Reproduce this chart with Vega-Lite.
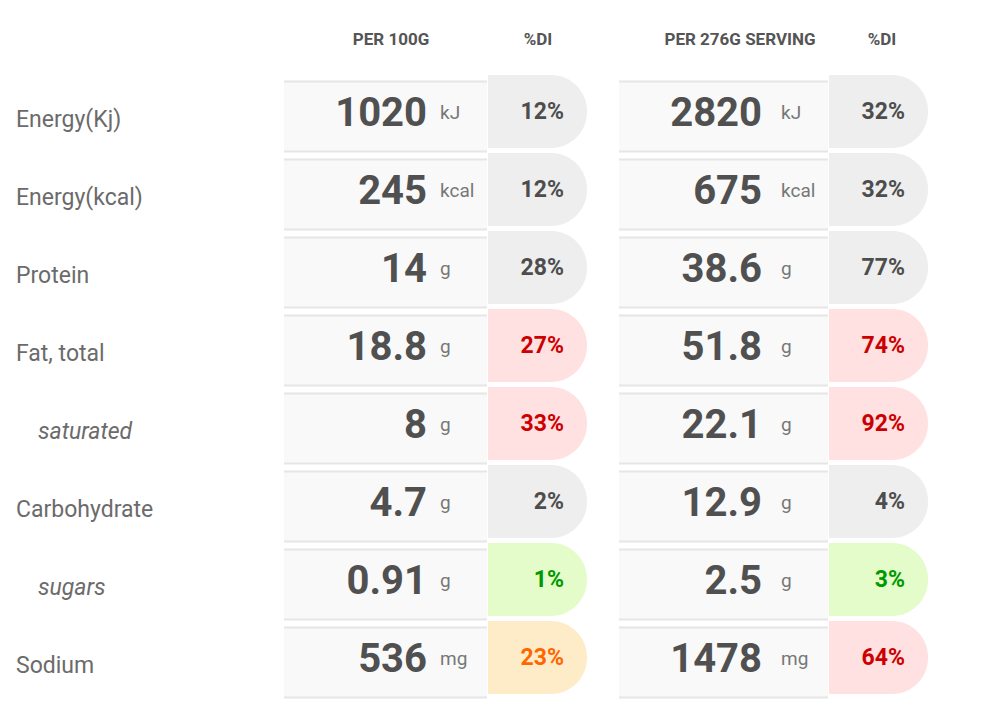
{
  "$schema": "https://vega.github.io/schema/vega-lite/v6.json",
  "padding": 0,
  "background": "white",
  "config": {"view": {"stroke": null}, "font": "Roboto"},
  "datasets": {
    "facts": [
      {"key": "energy_kj", "label": "Energy(Kj)", "sub": false, "basis": "per100", "amount": 1020, "unit": "kJ", "di": 0.12, "level": "neutral"},
      {"key": "energy_kcal", "label": "Energy(kcal)", "sub": false, "basis": "per100", "amount": 245, "unit": "kcal", "di": 0.12, "level": "neutral"},
      {"key": "protein", "label": "Protein", "sub": false, "basis": "per100", "amount": 14, "unit": "g", "di": 0.28, "level": "neutral"},
      {"key": "fat", "label": "Fat, total", "sub": false, "basis": "per100", "amount": 18.8, "unit": "g", "di": 0.27, "level": "high"},
      {"key": "saturated", "label": "saturated", "sub": true, "basis": "per100", "amount": 8, "unit": "g", "di": 0.33, "level": "high"},
      {"key": "carb", "label": "Carbohydrate", "sub": false, "basis": "per100", "amount": 4.7, "unit": "g", "di": 0.02, "level": "neutral"},
      {"key": "sugars", "label": "sugars", "sub": true, "basis": "per100", "amount": 0.91, "unit": "g", "di": 0.01, "level": "low"},
      {"key": "sodium", "label": "Sodium", "sub": false, "basis": "per100", "amount": 536, "unit": "mg", "di": 0.23, "level": "medium"},
      {"key": "energy_kj", "label": "Energy(Kj)", "sub": false, "basis": "serving", "amount": 2820, "unit": "kJ", "di": 0.32, "level": "neutral"},
      {"key": "energy_kcal", "label": "Energy(kcal)", "sub": false, "basis": "serving", "amount": 675, "unit": "kcal", "di": 0.32, "level": "neutral"},
      {"key": "protein", "label": "Protein", "sub": false, "basis": "serving", "amount": 38.6, "unit": "g", "di": 0.77, "level": "neutral"},
      {"key": "fat", "label": "Fat, total", "sub": false, "basis": "serving", "amount": 51.8, "unit": "g", "di": 0.74, "level": "high"},
      {"key": "saturated", "label": "saturated", "sub": true, "basis": "serving", "amount": 22.1, "unit": "g", "di": 0.92, "level": "high"},
      {"key": "carb", "label": "Carbohydrate", "sub": false, "basis": "serving", "amount": 12.9, "unit": "g", "di": 0.04, "level": "neutral"},
      {"key": "sugars", "label": "sugars", "sub": true, "basis": "serving", "amount": 2.5, "unit": "g", "di": 0.03, "level": "low"},
      {"key": "sodium", "label": "Sodium", "sub": false, "basis": "serving", "amount": 1478, "unit": "mg", "di": 0.64, "level": "high"}
    ]
  },
  "spacing": 31,
  "resolve": {"scale": {"y": "independent"}},
  "hconcat": [
    {
      "width": 252,
      "height": 728,
      "layer": [
        {
          "data": {"name": "facts"},
          "transform": [{"filter": "datum.basis == 'per100' && !datum.sub"}],
          "mark": {"type": "text", "align": "left", "baseline": "middle", "dx": -110, "dy": 3.6, "fontSize": 23, "fill": "#6b6b6b"},
          "encoding": {
            "y": {"field": "key", "type": "nominal", "axis": null, "scale": {"type": "band", "domain": ["header", "energy_kj", "energy_kcal", "protein", "fat", "saturated", "carb", "sugars", "sodium"], "range": [-0.5, 701.5], "paddingInner": 0.1026, "paddingOuter": 0.0513}},
            "text": {"field": "label", "type": "nominal"}
          }
        },
        {
          "data": {"name": "facts"},
          "transform": [{"filter": "datum.basis == 'per100' && datum.sub"}],
          "mark": {"type": "text", "align": "left", "baseline": "middle", "dx": -88, "dy": 3.6, "fontSize": 23, "fontStyle": "italic", "fill": "#6b6b6b"},
          "encoding": {
            "y": {"field": "key", "type": "nominal", "axis": null, "scale": {"type": "band", "domain": ["header", "energy_kj", "energy_kcal", "protein", "fat", "saturated", "carb", "sugars", "sodium"], "range": [-0.5, 701.5], "paddingInner": 0.1026, "paddingOuter": 0.0513}},
            "text": {"field": "label", "type": "nominal"}
          }
        }
      ]
    },
    {
      "spacing": -1,
      "resolve": {"scale": {"y": "independent"}},
      "hconcat": [
        {
          "width": 203,
          "height": 728,
          "layer": [
            {
              "data": {"name": "facts"},
              "transform": [{"filter": "datum.basis == 'per100'"}],
              "mark": {"type": "rect", "fill": "#f9f9f9"},
              "encoding": {
                "y": {"field": "key", "type": "nominal", "axis": null, "scale": {"type": "band", "domain": ["header", "energy_kj", "energy_kcal", "protein", "fat", "saturated", "carb", "sugars", "sodium"], "range": [-0.5, 701.5], "paddingInner": 0.1026, "paddingOuter": 0.0513}}
              }
            },
            {
              "data": {"name": "facts"},
              "transform": [{"filter": "datum.basis == 'per100'"}],
              "mark": {"type": "rule", "stroke": "#e6e6e6", "strokeWidth": 2},
              "encoding": {
                "y": {"field": "key", "type": "nominal", "axis": null, "bandPosition": 0}
              }
            },
            {
              "data": {"name": "facts"},
              "transform": [{"filter": "datum.basis == 'per100'"}],
              "mark": {"type": "rule", "stroke": "#e6e6e6", "strokeWidth": 2},
              "encoding": {
                "y": {"field": "key", "type": "nominal", "axis": null, "bandPosition": 1}
              }
            },
            {
              "data": {"name": "facts"},
              "transform": [{"filter": "datum.basis == 'per100'"}],
              "mark": {"type": "text", "align": "right", "baseline": "middle", "dx": 41.5, "dy": -2.5, "fontSize": 40, "fontWeight": "bold", "fill": "#505050"},
              "encoding": {
                "y": {"field": "key", "type": "nominal", "axis": null},
                "text": {"field": "amount", "type": "quantitative", "format": "~g"}
              }
            },
            {
              "data": {"name": "facts"},
              "transform": [{"filter": "datum.basis == 'per100'"}],
              "mark": {"type": "text", "align": "left", "baseline": "middle", "dx": 54.5, "dy": -4, "fontSize": 19, "fill": "#777777"},
              "encoding": {
                "y": {"field": "key", "type": "nominal", "axis": null},
                "text": {"field": "unit", "type": "nominal"}
              }
            },
            {
              "data": {"values": [{"key": "header", "text": "PER 100G"}]},
              "mark": {"type": "text", "align": "center", "baseline": "middle", "dx": 5.5, "dy": 1.4, "fontSize": 17, "fontWeight": "bold", "fill": "#555555"},
              "encoding": {
                "y": {"field": "key", "type": "nominal", "axis": null},
                "text": {"field": "text", "type": "nominal"}
              }
            }
          ]
        },
        {
          "width": 99,
          "height": 728,
          "layer": [
            {
              "data": {"name": "facts"},
              "transform": [{"filter": "datum.basis == 'per100'"}],
              "mark": {"type": "rect", "cornerRadiusTopRight": 36, "cornerRadiusBottomRight": 36},
              "encoding": {
                "y": {"field": "key", "type": "nominal", "axis": null, "scale": {"type": "band", "domain": ["header", "energy_kj", "energy_kcal", "protein", "fat", "saturated", "carb", "sugars", "sodium"], "range": [-5.5, 696.5], "paddingInner": 0.0641, "paddingOuter": 0.03205}},
                "fill": {"field": "level", "type": "nominal", "legend": null, "scale": {"domain": ["neutral", "high", "medium", "low"], "range": ["#eeeeee", "#ffe1e1", "#feecc8", "#e3fcc9"]}}
              }
            },
            {
              "data": {"name": "facts"},
              "transform": [{"filter": "datum.basis == 'per100'"}],
              "mark": {"type": "text", "align": "right", "baseline": "middle", "dx": 26.5, "dy": 0, "fontSize": 23, "fontWeight": "bold"},
              "encoding": {
                "y": {"field": "key", "type": "nominal", "axis": null},
                "text": {"field": "di", "type": "quantitative", "format": ".0%"},
                "color": {"field": "level", "type": "nominal", "legend": null, "scale": {"domain": ["neutral", "high", "medium", "low"], "range": ["#4d4d4d", "#cc0000", "#ff6600", "#009900"]}}
              }
            },
            {
              "data": {"values": [{"key": "header", "text": "%DI"}]},
              "mark": {"type": "text", "align": "center", "baseline": "middle", "dx": 0.5, "dy": 6.4, "fontSize": 17, "fontWeight": "bold", "fill": "#555555"},
              "encoding": {
                "y": {"field": "key", "type": "nominal", "axis": null},
                "text": {"field": "text", "type": "nominal"}
              }
            }
          ]
        }
      ]
    },
    {
      "spacing": -1,
      "resolve": {"scale": {"y": "independent"}},
      "hconcat": [
        {
          "width": 209,
          "height": 728,
          "layer": [
            {
              "data": {"name": "facts"},
              "transform": [{"filter": "datum.basis == 'serving'"}],
              "mark": {"type": "rect", "fill": "#f9f9f9"},
              "encoding": {
                "y": {"field": "key", "type": "nominal", "axis": null, "scale": {"type": "band", "domain": ["header", "energy_kj", "energy_kcal", "protein", "fat", "saturated", "carb", "sugars", "sodium"], "range": [-0.5, 701.5], "paddingInner": 0.1026, "paddingOuter": 0.0513}}
              }
            },
            {
              "data": {"name": "facts"},
              "transform": [{"filter": "datum.basis == 'serving'"}],
              "mark": {"type": "rule", "stroke": "#e6e6e6", "strokeWidth": 2},
              "encoding": {
                "y": {"field": "key", "type": "nominal", "axis": null, "bandPosition": 0}
              }
            },
            {
              "data": {"name": "facts"},
              "transform": [{"filter": "datum.basis == 'serving'"}],
              "mark": {"type": "rule", "stroke": "#e6e6e6", "strokeWidth": 2},
              "encoding": {
                "y": {"field": "key", "type": "nominal", "axis": null, "bandPosition": 1}
              }
            },
            {
              "data": {"name": "facts"},
              "transform": [{"filter": "datum.basis == 'serving'"}],
              "mark": {"type": "text", "align": "right", "baseline": "middle", "dx": 38.5, "dy": -2.5, "fontSize": 40, "fontWeight": "bold", "fill": "#505050"},
              "encoding": {
                "y": {"field": "key", "type": "nominal", "axis": null},
                "text": {"field": "amount", "type": "quantitative", "format": "~g"}
              }
            },
            {
              "data": {"name": "facts"},
              "transform": [{"filter": "datum.basis == 'serving'"}],
              "mark": {"type": "text", "align": "left", "baseline": "middle", "dx": 57.5, "dy": -4, "fontSize": 19, "fill": "#777777"},
              "encoding": {
                "y": {"field": "key", "type": "nominal", "axis": null},
                "text": {"field": "unit", "type": "nominal"}
              }
            },
            {
              "data": {"values": [{"key": "header", "text": "PER 276G SERVING"}]},
              "mark": {"type": "text", "align": "center", "baseline": "middle", "dx": 16.5, "dy": 1.4, "fontSize": 17, "fontWeight": "bold", "fill": "#555555"},
              "encoding": {
                "y": {"field": "key", "type": "nominal", "axis": null},
                "text": {"field": "text", "type": "nominal"}
              }
            }
          ]
        },
        {
          "width": 99,
          "height": 728,
          "layer": [
            {
              "data": {"name": "facts"},
              "transform": [{"filter": "datum.basis == 'serving'"}],
              "mark": {"type": "rect", "cornerRadiusTopRight": 36, "cornerRadiusBottomRight": 36},
              "encoding": {
                "y": {"field": "key", "type": "nominal", "axis": null, "scale": {"type": "band", "domain": ["header", "energy_kj", "energy_kcal", "protein", "fat", "saturated", "carb", "sugars", "sodium"], "range": [-5.5, 696.5], "paddingInner": 0.0641, "paddingOuter": 0.03205}},
                "fill": {"field": "level", "type": "nominal", "legend": null, "scale": {"domain": ["neutral", "high", "medium", "low"], "range": ["#eeeeee", "#ffe1e1", "#feecc8", "#e3fcc9"]}}
              }
            },
            {
              "data": {"name": "facts"},
              "transform": [{"filter": "datum.basis == 'serving'"}],
              "mark": {"type": "text", "align": "right", "baseline": "middle", "dx": 26.5, "dy": 0, "fontSize": 23, "fontWeight": "bold"},
              "encoding": {
                "y": {"field": "key", "type": "nominal", "axis": null},
                "text": {"field": "di", "type": "quantitative", "format": ".0%"},
                "color": {"field": "level", "type": "nominal", "legend": null, "scale": {"domain": ["neutral", "high", "medium", "low"], "range": ["#4d4d4d", "#cc0000", "#ff6600", "#009900"]}}
              }
            },
            {
              "data": {"values": [{"key": "header", "text": "%DI"}]},
              "mark": {"type": "text", "align": "center", "baseline": "middle", "dx": 3.5, "dy": 6.4, "fontSize": 17, "fontWeight": "bold", "fill": "#555555"},
              "encoding": {
                "y": {"field": "key", "type": "nominal", "axis": null},
                "text": {"field": "text", "type": "nominal"}
              }
            }
          ]
        }
      ]
    }
  ]
}
